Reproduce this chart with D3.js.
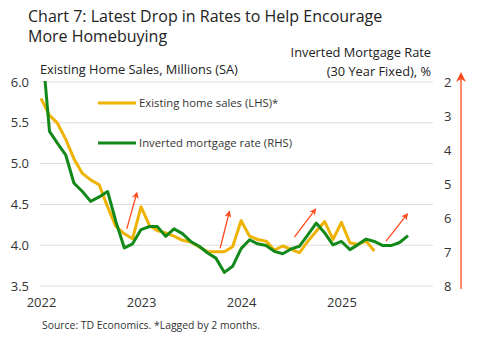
<!DOCTYPE html>
<html>
<head>
<meta charset="utf-8">
<script src="https://cdn.jsdelivr.net/npm/d3@7"></script>
<style>
  body { margin: 0; background: #fff; }
  svg { display: block; font-family: "Open Sans", sans-serif; }
</style>
</head>
<body>
<script>
// monthly data, first month Jan 2022
let startMonth = new Date(2022, 0, 1);
let salesLagged = [5.80, 5.59, 5.50, 5.30, 5.06, 4.88, 4.80, 4.74, 4.47, 4.23, 4.14, 4.08,
                   4.47, 4.24, 4.18, 4.15, 4.11, 4.06, 4.04, 3.98, 3.92, 3.92, 3.92, 3.98,
                   4.30, 4.11, 4.07, 4.05, 3.94, 3.99, 3.95, 3.91, 4.05, 4.17, 4.29, 4.07,
                   4.28, 4.03, 4.01, 4.05, 3.93];
let mortgageRate = [0.60, 3.45, 3.79, 4.14, 4.97, 5.22, 5.51, 5.38, 5.22, 6.10, 6.88, 6.76,
                    6.34, 6.25, 6.25, 6.54, 6.32, 6.46, 6.69, 6.83, 7.03, 7.18, 7.60, 7.42,
                    6.90, 6.64, 6.76, 6.81, 6.98, 7.05, 6.91, 6.83, 6.49, 6.15, 6.44, 6.79,
                    6.69, 6.93, 6.79, 6.62, 6.69, 6.81, 6.81, 6.72, 6.52];
let leftTicks = [3.5, 4.0, 4.5, 5.0, 5.5, 6.0];
let rightTicks = [2, 3, 4, 5, 6, 7, 8];
let yearTicks = [2022, 2023, 2024, 2025];
// arrows: [month index, LHS value] -> [month index, LHS value]
let arrows = [
  [[10.3, 4.20], [11.5, 4.64]],
  [[21.5, 3.96], [22.6, 4.41]],
  [[30.4, 4.10], [32.9, 4.44]],
  [[41.4, 4.05], [43.9, 4.38]]
];

let width = 494, height = 346;
let yellow = '#EDB300', green = '#13891A', red = '#FF4A1F';

let svg = d3.select('body').append('svg')
  .attr('width', width).attr('height', height);

let monthDate = i => d3.timeMonth.offset(startMonth, i);
let x = d3.scaleTime()
  .domain([startMonth, new Date(2025, 11, 1)])
  .range([41, 433]);
// x position of a fractional month index
let monthX = i => {
  let a = x(monthDate(Math.floor(i))), b = x(monthDate(Math.floor(i) + 1));
  return a + (i - Math.floor(i)) * (b - a);
};
let y = d3.scaleLinear().domain([3.5, 6.0]).range([286, 82]);
let y2 = d3.scaleLinear().domain([2, 8]).range([82, 286]);

// titles
svg.append('text').attr('x', 28).attr('y', 22)
  .attr('font-size', 16).attr('fill', '#222')
  .text('Chart 7: Latest Drop in Rates to Help Encourage');
svg.append('text').attr('x', 28).attr('y', 42)
  .attr('font-size', 16).attr('fill', '#222')
  .text('More Homebuying');
svg.append('text').attr('x', 40).attr('y', 74)
  .attr('font-size', 12.8).attr('fill', '#222')
  .text('Existing Home Sales, Millions (SA)');
svg.append('text').attr('x', 431).attr('y', 57)
  .attr('font-size', 12.8).attr('fill', '#222').attr('text-anchor', 'end')
  .text('Inverted Mortgage Rate');
svg.append('text').attr('x', 431).attr('y', 76)
  .attr('font-size', 12.8).attr('fill', '#222').attr('text-anchor', 'end')
  .text('(30 Year Fixed), %');

// gridlines
svg.append('g').selectAll('line').data(leftTicks).enter().append('line')
  .attr('x1', 40).attr('x2', 433)
  .attr('y1', d => y(d)).attr('y2', d => y(d))
  .attr('stroke', '#dcdcdc').attr('stroke-width', 1);

// axes
let axisL = svg.append('g').attr('transform', 'translate(40,0)')
  .call(d3.axisLeft(y).tickValues(leftTicks).tickFormat(d3.format('.1f')).tickSize(0).tickPadding(11));
let axisR = svg.append('g').attr('transform', 'translate(433,0)')
  .call(d3.axisRight(y2).tickValues(rightTicks).tickFormat(d3.format('d')).tickSize(0).tickPadding(11));
let axisB = svg.append('g').attr('transform', 'translate(0,292)')
  .call(d3.axisBottom(x).tickValues(yearTicks.map(v => new Date(v, 0, 1)))
    .tickFormat(d3.timeFormat('%Y')).tickSize(0).tickPadding(6));
[axisL, axisR, axisB].forEach(a => {
  a.select('.domain').remove();
  a.selectAll('text').attr('font-size', 13).attr('fill', '#333')
    .attr('font-family', '"Open Sans", sans-serif');
});

// clip for lines
svg.append('clipPath').attr('id', 'plot')
  .append('rect').attr('x', 30).attr('y', 81).attr('width', 410).attr('height', 210);

let line1 = d3.line().x((d, i) => x(monthDate(i))).y(d => y(d));
let line2 = d3.line().x((d, i) => x(monthDate(i))).y(d => y2(d));

let lines = svg.append('g').attr('clip-path', 'url(#plot)');
lines.append('path').datum(salesLagged).attr('d', line1)
  .attr('fill', 'none').attr('stroke', yellow).attr('stroke-width', 3)
  .attr('stroke-linejoin', 'round');
lines.append('path').datum(mortgageRate).attr('d', line2)
  .attr('fill', 'none').attr('stroke', green).attr('stroke-width', 3)
  .attr('stroke-linejoin', 'round');

// legend
let legend = svg.append('g');
[[yellow, 'Existing home sales (LHS)*', 103], [green, 'Inverted mortgage rate (RHS)', 143]].forEach(l => {
  legend.append('line').attr('x1', 98).attr('x2', 136).attr('y1', l[2]).attr('y2', l[2])
    .attr('stroke', l[0]).attr('stroke-width', 3);
  legend.append('text').attr('x', 139).attr('y', l[2] + 4)
    .attr('font-size', 11.3).attr('fill', '#333').text(l[1]);
});

// arrow markers
let defs = svg.append('defs');
defs.append('marker').attr('id', 'head')
  .attr('viewBox', '0 0 10 10').attr('refX', 8).attr('refY', 5)
  .attr('markerWidth', 7).attr('markerHeight', 7).attr('markerUnits', 'userSpaceOnUse')
  .attr('orient', 'auto')
  .append('path').attr('d', 'M0,0 L10,5 L0,10 L3,5 Z').attr('fill', red);
defs.append('marker').attr('id', 'bighead')
  .attr('viewBox', '0 0 10 10').attr('refX', 8).attr('refY', 5)
  .attr('markerWidth', 10).attr('markerHeight', 10).attr('markerUnits', 'userSpaceOnUse')
  .attr('orient', 'auto')
  .append('path').attr('d', 'M0,0 L10,5 L0,10 L3,5 Z').attr('fill', red);

svg.append('g').selectAll('line').data(arrows).enter().append('line')
  .attr('x1', d => monthX(d[0][0])).attr('y1', d => y(d[0][1]))
  .attr('x2', d => monthX(d[1][0])).attr('y2', d => y(d[1][1]))
  .attr('stroke', red).attr('stroke-width', 1.3).attr('marker-end', 'url(#head)');

// big inverted arrow on the right
svg.append('line').attr('x1', 461).attr('x2', 461).attr('y1', 289).attr('y2', 74)
  .attr('stroke', red).attr('stroke-width', 1.3).attr('marker-end', 'url(#bighead)');

// source
svg.append('text').attr('x', 42).attr('y', 329)
  .attr('font-size', 10.4).attr('fill', '#333')
  .text('Source: TD Economics. *Lagged by 2 months.');
</script>
</body>
</html>
